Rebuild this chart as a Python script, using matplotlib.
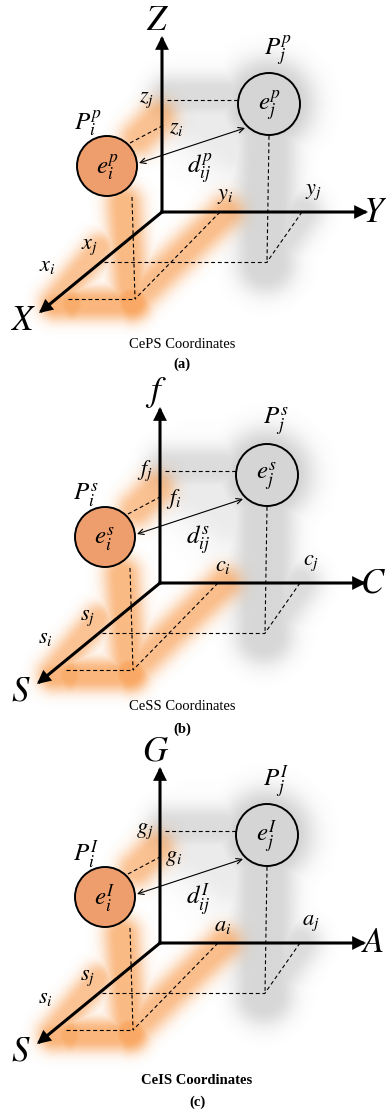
"""Three coordinate-space diagrams (CePS / CeSS / CeIS) stacked vertically."""

import numpy as np
import matplotlib.pyplot as plt
from matplotlib.patches import Circle, FancyArrowPatch

plt.rcParams["mathtext.fontset"] = "stix"
plt.rcParams["font.family"] = ["Liberation Serif", "DejaVu Serif"]

# ── Panel content ──────────────────────────────────────────────────────────
axis_names = [("X", "Y", "Z"), ("S", "C", "f"), ("S", "A", "G")]
coord_syms = [("x", "y", "z"), ("s", "c", "f"), ("s", "a", "g")]
supers = ["p", "s", "I"]
captions = ["CePS Coordinates", "CeSS Coordinates", "CeIS Coordinates"]
caption_bold = [False, False, True]
tags = ["(a)", "(b)", "(c)"]

# ── Layout (pixel coordinates, y down) ─────────────────────────────────────
W, H = 388, 1112
origins = [(162, 212), (160, 583), (160, 943)]
caption_xy = [(182, 345), (182, 707), (197, 1080)]
tag_xy = [(182, 364), (182, 729), (197, 1102)]

fig = plt.figure(figsize=(W / 100, H / 100), dpi=100)
ax = fig.add_axes([0, 0, 1, 1])
ax.set_xlim(0, W)
ax.set_ylim(H, 0)
ax.axis("off")

# ── Soft glow layers ───────────────────────────────────────────────────────
gx, gy = np.meshgrid(np.arange(W) + 0.5, np.arange(H) + 0.5)


def seg_glow(a, b, sigma, half=0.0):
    ax_, ay_ = a
    dx, dy = b[0] - ax_, b[1] - ay_
    t = np.clip(((gx - ax_) * dx + (gy - ay_) * dy) / max(dx * dx + dy * dy, 1e-9), 0, 1)
    d = np.hypot(gx - ax_ - t * dx, gy - ay_ - t * dy)
    d = np.maximum(d - half, 0)
    return np.exp(-d ** 2 / (2 * sigma ** 2))


orange = np.zeros((H, W))
gray = np.zeros((H, W))
for ox, oy in origins:
    def P(x, y):
        return (ox + x, oy + y)
    # orange trail from P_i down to the X-axis
    for a, b, s, h, w in [
        (P(-24, -74), P(-4, -94), 10, 6, 0.7),
        (P(-38, -8), P(-31, 86), 10, 6, 0.8),
        (P(-106, 92), P(-28, 92), 9, 5, 0.85),
        (P(-22, 82), P(64, 0), 10, 5, 0.75),
        (P(-62, 36), P(-108, 90), 9, 4, 0.7),
        (P(-30, 90), P(-30, 90), 9, 8, 1.0),
        (P(-90, 92), P(-90, 92), 8, 6, 0.95),
    ]:
        orange = np.maximum(orange, w * seg_glow(a, b, s, h))
    # gray shadow around P_j
    for a, b, s, h, w in [
        (P(107, -108), P(107, -108), 15, 28, 1.0),
        (P(8, -116), P(80, -116), 12, 6, 0.8),
        (P(105, -75), P(104, 52), 13, 14, 0.9),
        (P(104, 52), P(140, 0), 12, 6, 0.8),
        (P(40, -95), P(75, -70), 22, 10, 0.45),
    ]:
        gray = np.maximum(gray, w * seg_glow(a, b, s, h))

gray_img = np.zeros((H, W, 4))
gray_img[..., :3] = 0.5
gray_img[..., 3] = gray * 0.34
ax.imshow(gray_img, extent=(0, W, H, 0), zorder=0, interpolation="bilinear")

orange_img = np.zeros((H, W, 4))
orange_img[..., 0], orange_img[..., 1], orange_img[..., 2] = 0.97, 0.52, 0.14
orange_img[..., 3] = orange * 0.7
ax.imshow(orange_img, extent=(0, W, H, 0), zorder=1, interpolation="bilinear")

# ── Diagram elements ───────────────────────────────────────────────────────
dash = dict(color="black", lw=0.8, ls=(0, (3.5, 2.5)), zorder=3)

for k, (ox, oy) in enumerate(origins):
    def P(x, y):
        return (ox + x, oy + y)

    xn, yn, zn = axis_names[k]
    xs, ys, zs = coord_syms[k]
    sp = supers[k]

    # dashed projection lines
    for a, b in [
        (P(5, -112), P(76, -112)),
        (P(-32, -69), P(0, -86)),
        (P(-30, -15), P(-27, 87)),
        (P(58, 0), P(-27, 87)),
        (P(-94, 87), P(-27, 87)),
        (P(107, -76), P(105, 50)),
        (P(140, 0), P(105, 50)),
        (P(-58, 50), P(105, 50)),
    ]:
        ax.plot([a[0], b[0]], [a[1], b[1]], **dash)

    # main axes
    for tip in [P(0, -176), P(206, 0), P(-123, 101)]:
        ax.add_patch(FancyArrowPatch(P(0, 0), tip, arrowstyle="-|>",
                                     mutation_scale=16, lw=2.2, color="black",
                                     shrinkA=0, shrinkB=0, zorder=4,
                                     joinstyle="miter", capstyle="projecting"))

    # points
    ax.add_patch(Circle(P(-55, -46), 30, facecolor="#EE9D6C", edgecolor="black",
                        lw=1.4, zorder=5))
    ax.add_patch(Circle(P(107, -108), 31, facecolor="#D5D5D5", edgecolor="black",
                        lw=1.4, zorder=5))

    # distance arrow
    ax.add_patch(FancyArrowPatch(P(-23, -49), P(83, -84), arrowstyle="<->",
                                 mutation_scale=10, lw=0.8, color="black",
                                 shrinkA=0, shrinkB=0, zorder=4))

    # labels
    def lab(xy, s, size, **kw):
        ax.text(xy[0], xy[1], s, fontsize=size, ha="center", va="center",
                zorder=6, **kw)

    lab(P(-4, -191), f"${zn}$", 25)
    lab(P(213, 1), f"${yn}$", 25)
    lab(P(-139, 109), f"${xn}$", 25)
    lab(P(-55, -44), f"$e_i^{{{sp}}}$", 18)
    lab(P(107, -106), f"$e_j^{{{sp}}}$", 18)
    lab(P(-74, -88), f"$P_i^{{{sp}}}$", 18)
    lab(P(116, -161), f"$P_j^{{{sp}}}$", 18)
    lab(P(38, -43), f"$d_{{ij}}^{{{sp}}}$", 18)
    lab(P(-15, -112), f"${zs}_j$", 16)
    lab(P(14, -84), f"${zs}_i$", 16)
    lab(P(63, -16), f"${ys}_i$", 16)
    lab(P(151, -20), f"${ys}_j$", 16)
    lab(P(-73, 35), f"${xs}_j$", 16)
    lab(P(-115, 55), f"${xs}_i$", 16)

    # captions
    cx, cy = caption_xy[k]
    ax.text(cx, cy, captions[k], fontsize=10.5, ha="center", va="center",
            fontweight="bold" if caption_bold[k] else "normal")
    tx, ty = tag_xy[k]
    ax.text(tx, ty, tags[k], fontsize=10.5, ha="center", va="center",
            fontweight="bold")

fig.savefig("out.png", dpi=100, facecolor="white")
